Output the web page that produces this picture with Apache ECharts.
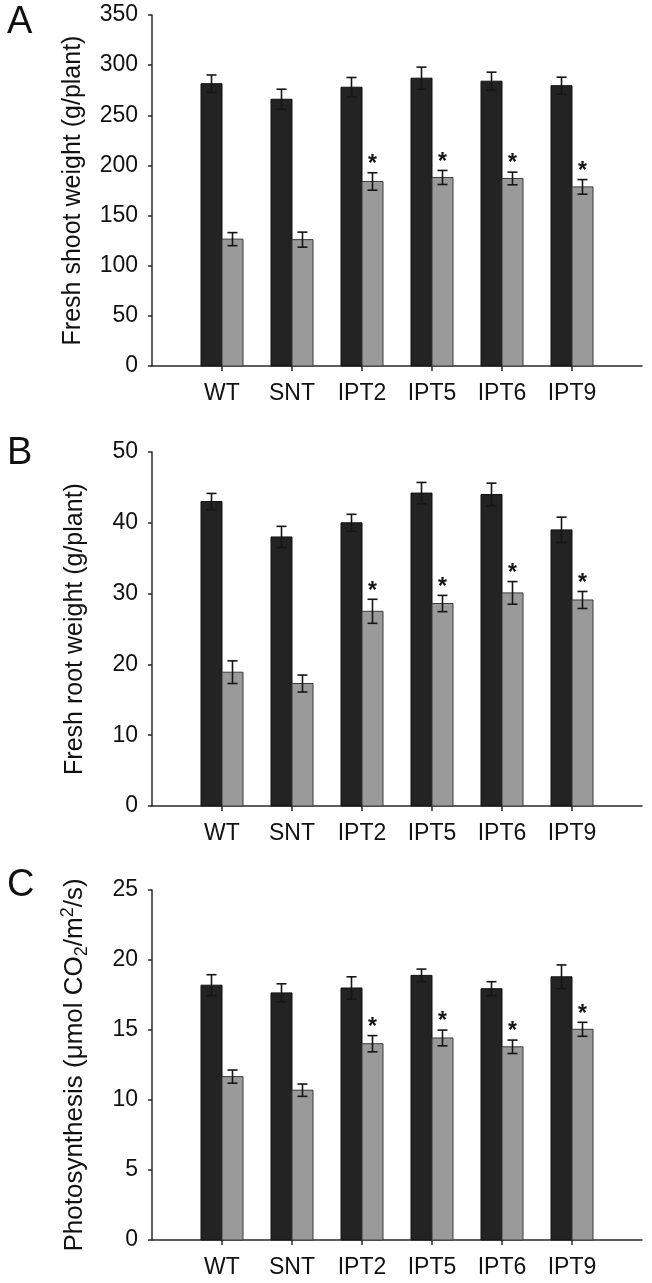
<!DOCTYPE html>
<html>
<head>
<meta charset="utf-8">
<script src="https://cdn.jsdelivr.net/npm/echarts@6/dist/echarts.min.js"></script>
<style>
html,body{margin:0;padding:0;background:#fff;}
#chart{width:652px;height:1283px;}
</style>
</head>
<body>
<div id="chart"></div>
<script>
// Categories (placed at x = 1..6 on a 0..7 value axis)
const categories = ['WT', 'SNT', 'IPT2', 'IPT5', 'IPT6', 'IPT9'];

// Panel A: Fresh shoot weight (g/plant)
const shootDark    = [281.5, 266, 278, 287, 284, 279.5];
const shootDarkErr = [8.7, 10, 9.7, 11, 9, 8.5];
const shootGray    = [126.5, 126, 184, 188, 187, 178.6];
const shootGrayErr = [6.5, 7.5, 8.7, 7, 6.3, 7.3];
const shootStar    = [0, 0, 1, 1, 1, 1];

// Panel B: Fresh root weight (g/plant)
const rootDark    = [43.0, 38.0, 40.0, 44.2, 44.0, 39.0];
const rootDarkErr = [1.15, 1.5, 1.2, 1.5, 1.6, 1.8];
const rootGray    = [18.9, 17.3, 27.5, 28.6, 30.1, 29.1];
const rootGrayErr = [1.6, 1.2, 1.7, 1.15, 1.6, 1.2];
const rootStar    = [0, 0, 1, 1, 1, 1];

// Panel C: Photosynthesis
const photoDark    = [18.2, 17.65, 18.0, 18.9, 17.95, 18.8];
const photoDarkErr = [0.75, 0.65, 0.8, 0.45, 0.5, 0.85];
const photoGray    = [11.67, 10.7, 14.02, 14.43, 13.8, 15.05];
const photoGrayErr = [0.47, 0.44, 0.58, 0.56, 0.48, 0.5];
const photoStar    = [0, 0, 1, 1, 1, 1];

// Axis ticks
const shootTicks = {min: 0, max: 350, interval: 50};
const rootTicks  = {min: 0, max: 50, interval: 10};
const photoTicks = {min: 0, max: 25, interval: 5};

const panelLetters = ['A', 'B', 'C'];
const yNames = [
  'Fresh shoot weight (g/plant)',
  'Fresh root weight (g/plant)',
  'Photosynthesis (μmol CO{sub|2}/m{sup|2}/s)'
];

const FONT = '"Liberation Sans", Arial, Helvetica, sans-serif';
const BAR_W = 0.30;
const DARK = '#232323';
const GRAY = '#9a9a9a';

function buildData(d, de, g, ge, s) {
  return categories.map((c, i) => [i + 1, d[i], de[i], g[i], ge[i], s[i]]);
}

function renderItem(params, api) {
  const x = api.value(0);
  const d = api.value(1), de = api.value(2);
  const g = api.value(3), ge = api.value(4);
  const star = api.value(5);
  const xl = api.coord([x - BAR_W, 0])[0];
  const xc = api.coord([x, 0])[0];
  const xr = api.coord([x + BAR_W, 0])[0];
  const y0 = api.coord([x, 0])[1];
  const yd = api.coord([x, d])[1];
  const yg = api.coord([x, g])[1];
  const ydT = api.coord([x, d + de])[1], ydB = api.coord([x, d - de])[1];
  const ygT = api.coord([x, g + ge])[1], ygB = api.coord([x, g - ge])[1];
  const cd = (xl + xc) / 2, cg = (xc + xr) / 2;
  const cap = 5;
  const eStyle = {stroke: '#151515', lineWidth: 1.6};
  const children = [
    {type: 'rect', shape: {x: xl, y: yd, width: xc - xl, height: y0 - yd},
     style: {fill: DARK, stroke: '#111', lineWidth: 1}},
    {type: 'rect', shape: {x: xc, y: yg, width: xr - xc, height: y0 - yg},
     style: {fill: GRAY, stroke: '#3a3a3a', lineWidth: 1}},
    {type: 'line', shape: {x1: cd, y1: ydT, x2: cd, y2: ydB}, style: eStyle},
    {type: 'line', shape: {x1: cd - cap, y1: ydT, x2: cd + cap, y2: ydT}, style: eStyle},
    {type: 'line', shape: {x1: cd - cap, y1: ydB, x2: cd + cap, y2: ydB}, style: eStyle},
    {type: 'line', shape: {x1: cg, y1: ygT, x2: cg, y2: ygB}, style: eStyle},
    {type: 'line', shape: {x1: cg - cap, y1: ygT, x2: cg + cap, y2: ygT}, style: eStyle},
    {type: 'line', shape: {x1: cg - cap, y1: ygB, x2: cg + cap, y2: ygB}, style: eStyle}
  ];
  if (star) {
    children.push({type: 'text', x: cg, y: ygT - 8,
      style: {text: '*', fontSize: 23, fontWeight: 'bold', fontFamily: FONT,
              fill: '#151515', align: 'center', verticalAlign: 'middle'}});
  }
  return {type: 'group', children};
}

const grids = [
  {left: 152, right: 10, top: 15, height: 351},
  {left: 152, right: 10, top: 452, height: 354},
  {left: 152, right: 10, top: 890, height: 350}
];
const yTicks = [shootTicks, rootTicks, photoTicks];
const datasets = [
  buildData(shootDark, shootDarkErr, shootGray, shootGrayErr, shootStar),
  buildData(rootDark, rootDarkErr, rootGray, rootGrayErr, rootStar),
  buildData(photoDark, photoDarkErr, photoGray, photoGrayErr, photoStar)
];
const catPositions = categories.map((c, i) => i + 1);

const axisLineStyle = {color: '#2a2a2a', width: 1.5};

const option = {
  backgroundColor: '#fff',
  animation: false,
  grid: grids,
  xAxis: grids.map((g, i) => ({
    type: 'value', gridIndex: i, min: 0, max: 7, interval: 1,
    splitLine: {show: false},
    axisLine: {show: true, lineStyle: axisLineStyle},
    axisTick: {show: true, length: 5, lineStyle: axisLineStyle, customValues: catPositions},
    axisLabel: {
      customValues: catPositions, margin: 16, fontSize: 23, color: '#111', fontFamily: FONT,
      formatter: v => categories[Math.round(v) - 1] || ''
    }
  })),
  yAxis: grids.map((g, i) => ({
    type: 'value', gridIndex: i,
    min: yTicks[i].min, max: yTicks[i].max, interval: yTicks[i].interval,
    splitLine: {show: false},
    axisLine: {show: true, lineStyle: axisLineStyle},
    axisTick: {show: true, length: 4, lineStyle: axisLineStyle},
    axisLabel: {margin: 14, fontSize: 23, color: '#111', fontFamily: FONT},
    name: yNames[i],
    nameLocation: 'middle',
    nameGap: 61,
    nameTextStyle: {
      fontSize: i === 2 ? 26 : 25, color: '#111', fontFamily: FONT, lineHeight: 32,
      rich: {
        sub: {fontSize: 18, fontFamily: FONT, color: '#111', verticalAlign: 'bottom', lineHeight: 22},
        sup: {fontSize: 18, fontFamily: FONT, color: '#111', verticalAlign: 'top', lineHeight: 18}
      }
    }
  })),
  series: datasets.map((data, i) => ({
    type: 'custom', xAxisIndex: i, yAxisIndex: i,
    renderItem: renderItem,
    encode: {x: 0, y: [1, 3]},
    clip: false,
    data: data
  })),
  graphic: panelLetters.map((t, i) => ({
    type: 'text', left: 7, top: [4, 435, 867][i],
    style: {text: t, fontSize: 38, fontFamily: FONT, fill: '#111'}
  }))
};

const chart = echarts.init(document.getElementById('chart'), null, {renderer: 'canvas'});
chart.setOption(option);
</script>
</body>
</html>
